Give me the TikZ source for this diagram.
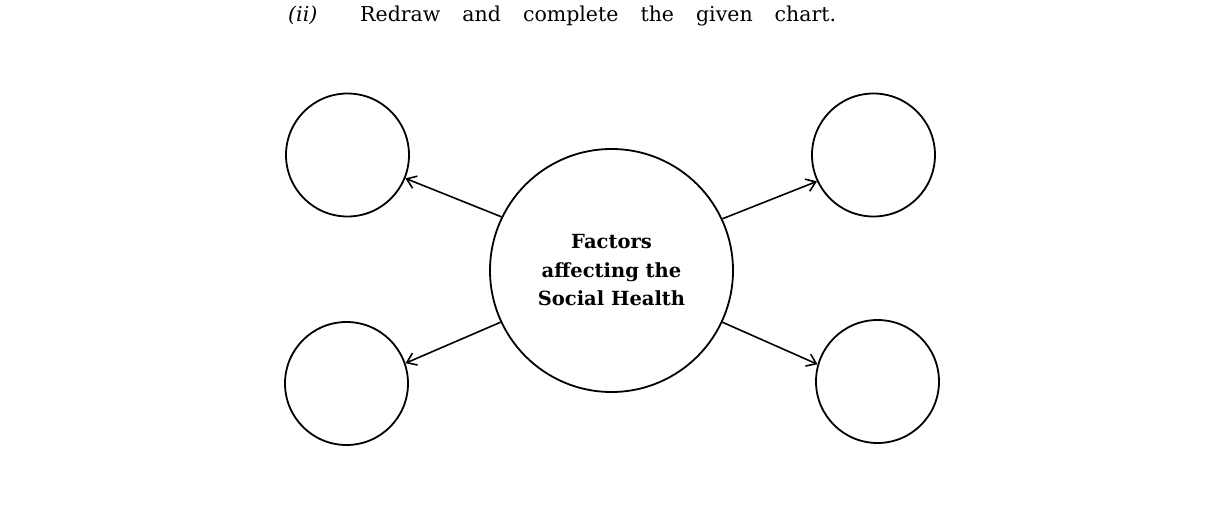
\documentclass[tikz,border=0pt]{standalone}
\usepackage{fontspec}
\setmainfont{DejaVu Serif}
\usetikzlibrary{arrows.meta}
\begin{document}
\begin{tikzpicture}[x=1pt,y=-1pt,
  ring/.style={circle,draw,line width=1.8pt,inner sep=0pt},
  link/.style={line width=1.6pt,-{Straight Barb[length=9pt,width=13pt,line width=1.6pt]}}]
\useasboundingbox (0,0) rectangle (1224,524);
\node[anchor=base west,inner sep=0pt,font=\fontsize{20.5}{24}\selectfont] (num) at (288,22) {\textit{(ii)}};
\node[anchor=base west,inner sep=0pt,font=\fontsize{20.5}{24}\selectfont] (head) at (360,22)
  {\makebox[476pt][s]{Redraw\hfill and\hfill complete\hfill the\hfill given\hfill chart.}};
\node[ring,minimum size=243pt,align=center,font=\bfseries\fontsize{19.5}{28.5}\selectfont] (c) at (611.5,270.5)
  {Factors\\affecting the\\Social Health};
\node[ring,minimum size=123pt] (tl) at (347.5,155) {};
\node[ring,minimum size=123pt] (bl) at (346.5,383.5) {};
\node[ring,minimum size=123pt] (tr) at (873.5,155) {};
\node[ring,minimum size=123pt] (br) at (877.5,381.5) {};
\draw[link] (c.154.6) -- (tl.-22);
\draw[link] (c.25.6) -- (tr.-155.8);
\draw[link] (c.205.6) -- (bl.19.6);
\draw[link] (c.-25.6) -- (br.164.5);
\end{tikzpicture}
\end{document}
